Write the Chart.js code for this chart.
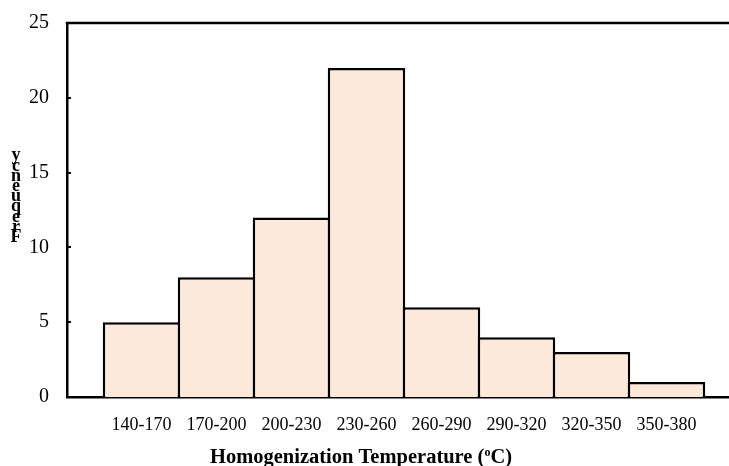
<!DOCTYPE html>
<html><head><meta charset="utf-8">
<script src="https://cdn.jsdelivr.net/npm/chart.js@4/dist/chart.umd.min.js"></script>
<style>html,body{margin:0;padding:0;background:#fff;overflow:hidden;}</style>
</head><body>
<canvas id="c" width="729" height="466"></canvas>
<script>
const categories = ['140-170','170-200','200-230','230-260','260-290','290-320','320-350','350-380'];
const frequencies = [5, 8, 12, 22, 6, 4, 3, 1];
const yTicks = [0, 5, 10, 15, 20, 25];
const xTitleMain = 'Homogenization Temperature (';
const xTitleSup = 'o';
const xTitleEnd = 'C)';
const yTitle = 'Frequency';

const serif = '"Liberation Serif", "Times New Roman", serif';

const decor = {
  id: 'decor',
  afterDraw(chart) {
    const ctx = chart.ctx;
    const a = chart.chartArea;
    const ys = chart.scales.y;
    ctx.save();
    ctx.strokeStyle = '#000';
    ctx.lineWidth = 2.5;
    // top frame line
    ctx.beginPath();
    ctx.moveTo(a.left - 1.25, a.top);
    ctx.lineTo(a.right, a.top);
    ctx.stroke();
    // inside tick marks on y axis
    ctx.lineWidth = 2;
    yTicks.forEach(v => {
      const py = Math.round(ys.getPixelForValue(v));
      ctx.beginPath();
      ctx.moveTo(a.left, py);
      ctx.lineTo(a.left + 4, py);
      ctx.stroke();
    });
    // stacked y title (reversed letters)
    ctx.fillStyle = '#000';
    ctx.font = 'bold 18px ' + serif;
    ctx.textAlign = 'center';
    ctx.textBaseline = 'alphabetic';
    const letters = yTitle.split('');
    letters.forEach((ch, i) => {
      ctx.fillText(ch, 16, 242 - i * 10.2);
    });
    // x title with superscript
    ctx.textAlign = 'left';
    const bigFont = 'bold 20.5px ' + serif;
    const smallFont = 'bold 12px ' + serif;
    ctx.font = bigFont;
    const w1 = ctx.measureText(xTitleMain).width;
    const w3 = ctx.measureText(xTitleEnd).width;
    ctx.font = smallFont;
    const w2 = ctx.measureText(xTitleSup).width;
    const total = w1 + w2 + w3;
    let x = 361 - total / 2;
    const base = 463;
    ctx.font = bigFont;
    ctx.fillText(xTitleMain, x, base);
    x += w1;
    ctx.font = smallFont;
    ctx.fillText(xTitleSup, x, base - 7);
    x += w2;
    ctx.font = bigFont;
    ctx.fillText(xTitleEnd, x, base);
    ctx.restore();
  }
};

new Chart(document.getElementById('c'), {
  type: 'bar',
  data: {
    datasets: [{
      data: categories.map((c, i) => ({ x: i, y: frequencies[i] })),
      backgroundColor: '#FDE9D9',
      borderColor: '#000',
      borderWidth: 2.5,
      barPercentage: 1.033,
      categoryPercentage: 1
    }]
  },
  options: {
    responsive: false,
    animation: false,
    devicePixelRatio: 1,
    layout: { padding: { top: 23, left: 0, right: 0, bottom: 0 } },
    plugins: { legend: { display: false }, tooltip: { enabled: false } },
    scales: {
      x: {
        type: 'linear',
        min: -0.993,
        max: 7.833,
        offset: false,
        grid: { display: false },
        border: { display: true, color: '#000', width: 2.5 },
        afterBuildTicks: s => { s.ticks = categories.map((c, i) => ({ value: i })); },
        afterFit: s => { s.height = 69; s.paddingLeft = 0; s.paddingRight = 0; },
        ticks: {
          autoSkip: false,
          maxRotation: 0,
          padding: 9,
          color: '#000',
          font: { family: serif, size: 18 },
          callback: v => categories[v] !== undefined ? categories[v] : ''
        }
      },
      y: {
        min: 0,
        max: 25,
        grid: { display: false },
        border: { display: true, color: '#000', width: 2.5 },
        afterBuildTicks: s => { s.ticks = yTicks.map(v => ({ value: v })); },
        afterFit: s => { s.width = 67; s.paddingTop = 0; s.paddingBottom = 0; },
        ticks: {
          padding: 10,
          color: '#000',
          font: { family: serif, size: 20 }
        }
      }
    }
  },
  plugins: [decor]
});
</script>
</body></html>
